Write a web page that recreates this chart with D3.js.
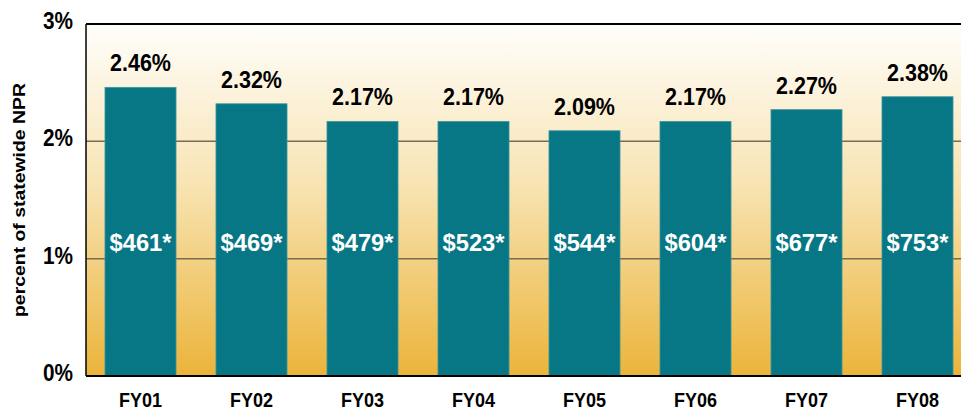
<!DOCTYPE html>
<html>
<head>
<meta charset="utf-8">
<script src="https://cdn.jsdelivr.net/npm/d3@7"></script>
<style>
  body { margin: 0; background: #fff; }
  text { font-family: "Liberation Sans Narrow", "Arial Narrow", "Liberation Sans", sans-serif; font-weight: bold; }
</style>
</head>
<body>
<div id="chart"></div>
<script>
// Data
const years = ["FY01", "FY02", "FY03", "FY04", "FY05", "FY06", "FY07", "FY08"];
const pctNPR = [2.46, 2.32, 2.17, 2.17, 2.09, 2.17, 2.27, 2.38];
const dollars = ["$461*", "$469*", "$479*", "$523*", "$544*", "$604*", "$677*", "$753*"];
const yTicks = [0, 1, 2, 3];

const W = 961, H = 412;
const margin = { top: 24, right: 0, bottom: 36, left: 86 };
const plotBottom = H - margin.bottom;

const svg = d3.select("#chart")
  .append("svg")
  .attr("width", W)
  .attr("height", H);

// background gradient
const defs = svg.append("defs");
const grad = defs.append("linearGradient")
  .attr("id", "bg")
  .attr("x1", 0).attr("y1", 0).attr("x2", 0).attr("y2", 1);
grad.append("stop").attr("offset", "0%").attr("stop-color", "#fffefb");
grad.append("stop").attr("offset", "45%").attr("stop-color", "#f8e4b4");
grad.append("stop").attr("offset", "100%").attr("stop-color", "#ebb43a");

const x = d3.scaleBand()
  .domain(years)
  .range([margin.left, 972])
  .paddingInner(0.36)
  .paddingOuter(0.171);

const y = d3.scaleLinear()
  .domain([0, 3])
  .range([plotBottom, margin.top]);

svg.append("rect")
  .attr("x", margin.left)
  .attr("y", margin.top)
  .attr("width", W - margin.left)
  .attr("height", plotBottom - margin.top)
  .attr("fill", "url(#bg)");

// gridlines
svg.selectAll(".grid")
  .data(yTicks.filter(d => d > 0 && d < 3))
  .enter().append("line")
  .attr("class", "grid")
  .attr("x1", margin.left)
  .attr("x2", W)
  .attr("y1", d => y(d))
  .attr("y2", d => y(d))
  .attr("stroke", "#7a6a50")
  .attr("stroke-width", 1.5);

// bars
svg.selectAll(".bar")
  .data(pctNPR)
  .enter().append("rect")
  .attr("class", "bar")
  .attr("x", (d, i) => x(years[i]))
  .attr("y", d => y(d))
  .attr("width", x.bandwidth())
  .attr("height", d => y(0) - y(d))
  .attr("fill", "#077786")
  .attr("stroke", "#3f97a0")
  .attr("stroke-width", 0.8);

// value labels (narrowed to mimic a condensed face)
svg.selectAll(".pct")
  .data(pctNPR)
  .enter().append("text")
  .attr("class", "pct")
  .attr("x", (d, i) => x(years[i]) + x.bandwidth() / 2)
  .attr("y", d => y(d) - 16)
  .attr("text-anchor", "middle")
  .attr("font-size", 24)
  .attr("textLength", 61)
  .attr("lengthAdjust", "spacingAndGlyphs")
  .attr("fill", "#000")
  .text(d => d.toFixed(2) + "%");

svg.selectAll(".dollar")
  .data(dollars)
  .enter().append("text")
  .attr("class", "dollar")
  .attr("x", (d, i) => x(years[i]) + x.bandwidth() / 2)
  .attr("y", 251)
  .attr("text-anchor", "middle")
  .attr("font-size", 24)
  .attr("textLength", 62)
  .attr("lengthAdjust", "spacingAndGlyphs")
  .attr("fill", "#fff")
  .text(d => d);

// axes frame
svg.append("line")
  .attr("x1", margin.left).attr("x2", W)
  .attr("y1", margin.top).attr("y2", margin.top)
  .attr("stroke", "#000").attr("stroke-width", 2);
svg.append("line")
  .attr("x1", margin.left).attr("x2", W)
  .attr("y1", plotBottom).attr("y2", plotBottom)
  .attr("stroke", "#000").attr("stroke-width", 2);
svg.append("line")
  .attr("x1", margin.left).attr("x2", margin.left)
  .attr("y1", margin.top).attr("y2", plotBottom)
  .attr("stroke", "#000").attr("stroke-width", 1.5);

// y tick labels
svg.selectAll(".ytick")
  .data(yTicks)
  .enter().append("text")
  .attr("class", "ytick")
  .attr("x", 73)
  .attr("y", d => y(d) + 5)
  .attr("text-anchor", "end")
  .attr("font-size", 23)
  .attr("textLength", 30)
  .attr("lengthAdjust", "spacingAndGlyphs")
  .text(d => d + "%");

// x labels
svg.selectAll(".xtick")
  .data(years)
  .enter().append("text")
  .attr("class", "xtick")
  .attr("x", d => x(d) + x.bandwidth() / 2)
  .attr("y", 407)
  .attr("text-anchor", "middle")
  .attr("font-size", 20.5)
  .attr("textLength", 43)
  .attr("lengthAdjust", "spacingAndGlyphs")
  .text(d => d);

// y axis title
svg.append("text")
  .attr("transform", "translate(25,200) rotate(-90)")
  .attr("text-anchor", "middle")
  .attr("font-size", 17)
  .attr("textLength", 234)
  .attr("lengthAdjust", "spacingAndGlyphs")
  .text("percent of statewide NPR");
</script>
</body>
</html>
